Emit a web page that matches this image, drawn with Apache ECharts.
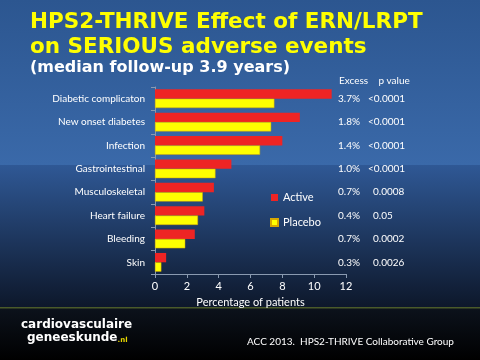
<!DOCTYPE html>
<html><head><meta charset="utf-8">
<script src="https://cdn.jsdelivr.net/npm/echarts@6/dist/echarts.min.js"></script>
<style>html,body{margin:0;padding:0;background:#000}#c{width:480px;height:360px}</style>
</head><body><div id="c"></div>
<script>
const categories = ['Diabetic complicaton','New onset diabetes','Infection','Gastrointestinal','Musculoskeletal','Heart failure','Bleeding','Skin'];
const active  = [11.1, 9.1, 8.0, 4.8, 3.7, 3.1, 2.5, 0.7];
const placebo = [7.5, 7.3, 6.6, 3.8, 3.0, 2.7, 1.9, 0.4];
const excess  = ['3.7%','1.8%','1.4%','1.0%','0.7%','0.4%','0.7%','0.3%'];
const pvalues = ['<0.0001','<0.0001','<0.0001','<0.0001','0.0008','0.05','0.0002','0.0026'];
const xTicks = [0, 2, 4, 6, 8, 10, 12];

const chart = echarts.init(document.getElementById('c'));
const font = 'Lato, "Open Sans", sans-serif';
chart.setOption({
  animation: false,
  backgroundColor: '#000',
  graphic: [
    {type:'rect', z:-10, shape:{x:0,y:0,width:480,height:165}, style:{fill:new echarts.graphic.LinearGradient(0,0,0,1,[{offset:0,color:'#2c5690'},{offset:1,color:'#3a69a9'}])}},
    {type:'rect', z:-10, shape:{x:0,y:165,width:480,height:143}, style:{fill:new echarts.graphic.LinearGradient(0,0,0,1,[{offset:0,color:'#2f5895'},{offset:1,color:'#0d172a'}])}},
    {type:'rect', z:-10, shape:{x:0,y:308,width:480,height:52}, style:{fill:new echarts.graphic.LinearGradient(0,0,0,1,[{offset:0,color:'#0c121c'},{offset:1,color:'#000000'}])}},
    {type:'rect', z:-9, shape:{x:0,y:307,width:480,height:1.5}, style:{fill:'#4a5a2a'}},
    {type:'text', z:10, left:21, top:319, style:{text:'cardiovasculaire', fill:'#fff', font:'bold 12px "DejaVu Sans", sans-serif'}},
    {type:'text', z:10, left:27, top:332, style:{text:'{a|geneeskunde}{b|.nl}', fill:'#fff', rich:{a:{fill:'#fff',font:'bold 12px "DejaVu Sans", sans-serif'}, b:{fill:'#e8d800',font:'bold 7px "DejaVu Sans", sans-serif', padding:[4,0,0,0]}}}},
    {type:'text', z:10, left:247, top:337, style:{text:'ACC 2013.  HPS2-THRIVE Collaborative Group', fill:'#fff', font:'10px ' + font}},
    {type:'text', z:10, left:339, top:76, style:{text:'Excess    p value', fill:'#fff', font:'10px ' + font}}
  ],
  title: [
    {text:'HPS2-THRIVE Effect of ERN/LRPT\non SERIOUS adverse events', left:25, top:5, textStyle:{color:'#ffff00', fontFamily:'"DejaVu Sans", Verdana, sans-serif', fontWeight:'bold', fontSize:21.5, lineHeight:25}},
    {text:'(median follow-up 3.9 years)', left:25, top:55, textStyle:{color:'#fff', fontFamily:'"DejaVu Sans", Verdana, sans-serif', fontWeight:'bold', fontSize:16}}
  ],
  legend: {
    orient:'vertical', left:265, top:187, itemWidth:7, itemHeight:7, itemGap:14, icon:'rect',
    textStyle:{color:'#fff', fontSize:11, fontFamily:font},
    data:['Active','Placebo']
  },
  grid: {left:155, right:134, top:87, bottom:86, containLabel:false},
  xAxis: {
    type:'value', min:0, max:12, interval:2,
    name:'Percentage of patients', nameLocation:'middle', nameGap:20,
    nameTextStyle:{color:'#fff', fontSize:11, fontFamily:font},
    axisLine:{show:true, lineStyle:{color:'#8a9ab0'}},
    axisTick:{show:true, length:4, lineStyle:{color:'#8a9ab0'}},
    axisLabel:{color:'#fff', fontSize:11, fontFamily:font, margin:7, customValues: xTicks},
    splitLine:{show:false}
  },
  yAxis: [{
    type:'category', data:categories, inverse:true,
    axisLine:{show:true, lineStyle:{color:'#8a9ab0'}},
    axisTick:{show:true, length:4, lineStyle:{color:'#8a9ab0'}},
    axisLabel:{color:'#fff', fontSize:10, fontFamily:font, margin:10}
  },{
    type:'category', data:categories, inverse:true, position:'right',
    axisLine:{show:false}, axisTick:{show:false},
    axisLabel:{margin:-8, fontFamily:font, fontSize:10,
      formatter:(v,i)=>'{a|'+excess[i]+'}'+(pvalues[i][0]==='<'?'{b|':'{c|')+pvalues[i]+'}',
      rich:{a:{color:'#fff',width:30,fontSize:10,fontFamily:font}, b:{color:'#fff',fontSize:10,fontFamily:font}, c:{color:'#fff',fontSize:10,fontFamily:font,padding:[0,0,0,5]}}}
  }],
  series: [
    {name:'Active', type:'bar', data:active, barGap:'0%', barCategoryGap:'20%', itemStyle:{color:'#ee2424'}},
    {name:'Placebo', type:'bar', data:placebo, itemStyle:{color:'#ffff00', borderColor:'#d8a800', borderWidth:0.5}}
  ]
});
</script></body></html>
